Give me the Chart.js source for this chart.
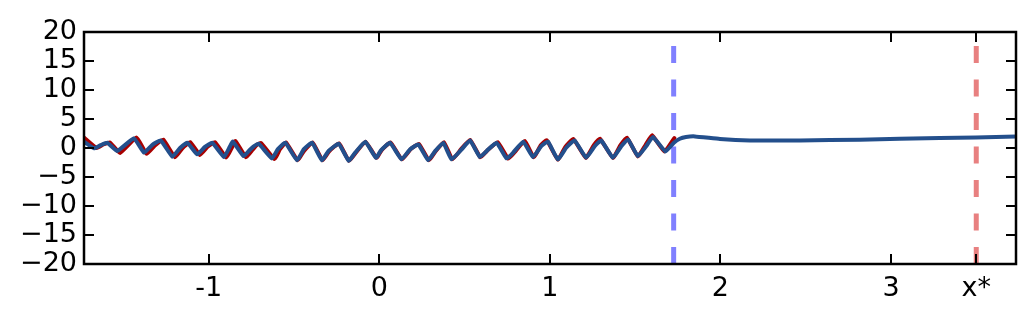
<!DOCTYPE html>
<html>
<head>
<meta charset="utf-8">
<script src="https://cdn.jsdelivr.net/npm/chart.js@4"></script>
<style>
html,body{margin:0;padding:0;background:#fff;}
#wrap{width:1034px;height:323px;position:relative;}
</style>
</head>
<body>
<div id="wrap"><canvas id="c" width="1034" height="323"></canvas></div>
<script>
// ---- data ----
const blueX = [-1.731,-1.672,-1.633,-1.594,-1.536,-1.438,-1.379,-1.332,-1.281,-1.213,-1.168,-1.125,-1.067,-1.022,-0.979,-0.910,-0.875,-0.858,
  -0.795,-0.758,-0.734,-0.707,-0.629,-0.594,-0.551,-0.482,-0.443,-0.394,-0.336,-0.297,-0.238,-0.179,-0.141,-0.082,-0.019,0.010,
  0.063,0.131,0.180,0.229,0.287,0.326,0.375,0.424,0.483,0.532,0.590,0.630,0.688,0.747,0.785,0.844,
  0.901,0.950,0.989,1.047,1.096,1.145,1.213,1.263,1.301,1.370,1.419,1.458,1.516,1.565,1.604,1.678,
  1.727,1.762,1.798,1.851,1.997,2.173,2.466,2.817,3.286,3.498,3.733];
const blueY = [1.09,-0.06,0.5,0.9,-0.5,1.66,-0.8,0.5,1.3,-1.5,0.0,0.9,-1.1,0.2,0.9,-1.55,0.3,1.1,
  -1.4,-0.3,0.34,0.74,-1.8,-0.2,0.9,-2.1,-0.24,0.9,-2.1,-0.5,0.74,-2.2,-0.8,1.09,-1.7,-0.4,
  0.9,-1.96,-0.24,0.62,-2.1,-0.6,0.9,-1.96,-0.24,1.3,-1.55,-0.5,0.9,-1.8,-0.8,1.09,
  -1.55,0.34,1.09,-1.96,0.05,1.3,-1.67,0.3,1.3,-1.67,0.3,1.49,-1.4,0.3,1.9,-0.6,
  0.9,1.6,1.9,2.0,1.55,1.3,1.3,1.43,1.72,1.83,1.97];
const redX = [-1.731,-1.657,-1.618,-1.579,-1.520,-1.423,-1.364,-1.317,-1.267,-1.197,-1.153,-1.109,-1.051,-1.007,-0.963,-0.896,-0.860,-0.843,
  -0.781,-0.743,-0.719,-0.693,-0.614,-0.582,-0.547,-0.479,-0.441,-0.391,-0.333,-0.295,-0.236,-0.178,-0.140,-0.081,-0.016,0.013,
  0.066,0.133,0.183,0.232,0.291,0.329,0.379,0.429,0.480,0.532,0.593,0.631,0.694,0.756,0.794,0.853,
  0.906,0.947,0.982,1.047,1.091,1.138,1.211,1.258,1.294,1.370,1.414,1.452,1.516,1.561,1.599,1.672,1.730];
const redY = [1.8,0.0,0.6,0.95,-0.85,1.8,-1.0,0.4,1.45,-1.6,0.0,1.0,-1.2,0.2,1.0,-1.65,0.3,1.2,
  -1.6,-0.3,0.5,0.85,-1.9,-0.2,0.95,-2.1,-0.5,0.95,-2.1,-0.6,0.8,-2.2,-0.9,1.1,-1.7,-0.4,
  0.95,-1.96,-0.24,0.7,-2.1,-0.6,1.0,-1.96,-0.2,1.4,-1.6,-0.5,1.0,-1.85,-0.7,1.2,
  -1.6,0.5,1.35,-2.0,0.2,1.55,-1.7,0.5,1.6,-1.7,0.5,1.8,-1.45,0.5,2.2,-0.6,1.7];
const boundaryX = 1.726;   // blue dashed vertical line
const optimumX = 3.5;      // red dashed vertical line (x*)
const xTickValues = [-1, 0, 1, 2, 3, 3.5];
const xTickLabels = ['-1', '0', '1', '2', '3', 'x*'];
const yTickValues = [-20, -15, -10, -5, 0, 5, 10, 15, 20];
const yTickLabels = ['\u221220', '\u221215', '\u221210', '\u22125', '0', '5', '10', '15', '20'];
const xRange = [-1.731, 3.733];
const yRange = [-20, 20];

const toPts = (xs, ys) => xs.map((x, i) => ({x: x, y: ys[i]}));
const FONT = {family: 'DejaVu Sans', size: 27};

const framePlugin = {
  id: 'frame',
  afterDatasetsDraw(chart) {
    const {ctx, chartArea: a, scales} = chart;
    ctx.save();
    ctx.strokeStyle = '#000';
    ctx.lineWidth = 2;
    const L = 10;
    ctx.beginPath();
    xTickValues.forEach(v => {
      const px = Math.round(scales.x.getPixelForValue(v));
      ctx.moveTo(px, a.bottom); ctx.lineTo(px, a.bottom - L);
      ctx.moveTo(px, a.top); ctx.lineTo(px, a.top + L);
    });
    yTickValues.forEach(v => {
      const py = Math.round(scales.y.getPixelForValue(v));
      ctx.moveTo(a.left, py); ctx.lineTo(a.left + L, py);
      ctx.moveTo(a.right, py); ctx.lineTo(a.right - L, py);
    });
    ctx.stroke();
    ctx.lineWidth = 2.5;
    ctx.strokeRect(a.left, a.top, a.right - a.left, a.bottom - a.top);
    ctx.restore();
  }
};

new Chart(document.getElementById('c'), {
  type: 'line',
  data: {
    datasets: [
      {label: 'model', data: toPts(blueX, blueY), borderColor: '#234f8c', borderWidth: 4, pointRadius: 0, tension: 0.12, borderJoinStyle: 'round', borderCapStyle: 'round', order: 0},
      {label: 'true', data: toPts(redX, redY), borderColor: '#a80000', borderWidth: 4, pointRadius: 0, tension: 0.12, borderJoinStyle: 'round', borderCapStyle: 'round', order: 1},
      {label: 'boundary', data: toPts([boundaryX, boundaryX], [yRange[0], yRange[1]]), borderColor: '#8080ff', borderWidth: 5, borderDash: [17, 16.5], borderCapStyle: 'butt', pointRadius: 0, order: 2},
      {label: 'x*', data: toPts([optimumX, optimumX], [yRange[0], yRange[1]]), borderColor: '#e88080', borderWidth: 5, borderDash: [17, 16.5], borderCapStyle: 'butt', pointRadius: 0, order: 3}
    ]
  },
  options: {
    responsive: false,
    animation: false,
    layout: {padding: {left: 0, right: 18, top: 32, bottom: 0}},
    plugins: {legend: {display: false}, tooltip: {enabled: false}},
    scales: {
      x: {
        type: 'linear', min: xRange[0], max: xRange[1],
        afterBuildTicks: s => { s.ticks = xTickValues.map(v => ({value: v})); },
        afterFit: s => { s.height = 59; },
        grid: {display: false, drawTicks: false},
        border: {display: false},
        ticks: {font: FONT, color: '#000', padding: 9, maxRotation: 0, autoSkip: false,
          callback: (v, i) => xTickLabels[i]}
      },
      y: {
        type: 'linear', min: yRange[0], max: yRange[1],
        afterBuildTicks: s => { s.ticks = yTickValues.map(v => ({value: v})); },
        afterFit: s => { s.width = 84; },
        grid: {display: false, drawTicks: false},
        border: {display: false},
        ticks: {font: FONT, color: '#000', padding: 7, autoSkip: false,
          callback: (v, i) => yTickLabels[i]}
      }
    }
  },
  plugins: [framePlugin]
});
</script>
</body>
</html>
